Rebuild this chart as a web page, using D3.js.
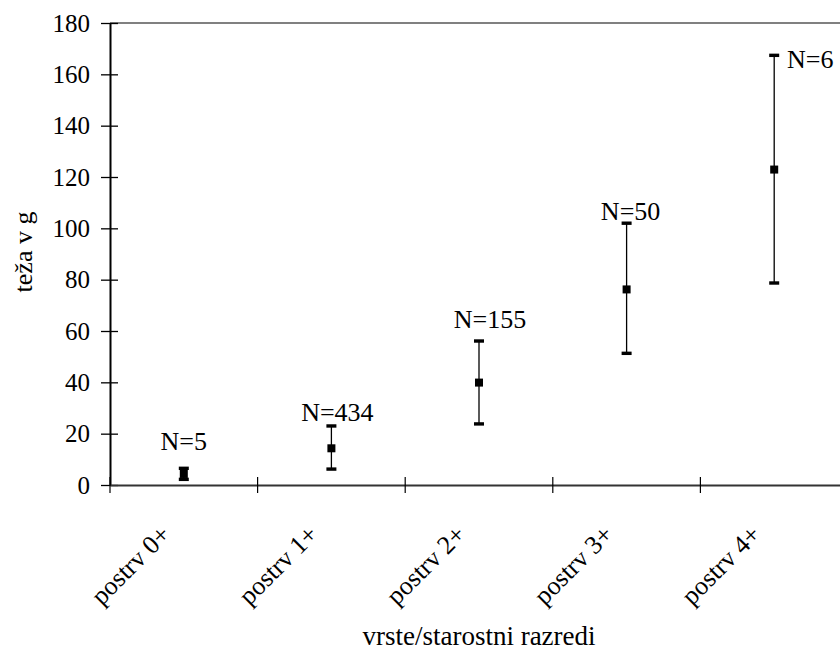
<!DOCTYPE html>
<html>
<head>
<meta charset="utf-8">
<script src="https://cdn.jsdelivr.net/npm/d3@7"></script>
<style>
    body { margin: 0; background: #fff; }
    svg text { font-family: "Liberation Serif", "Times New Roman", serif; fill: #000; }
</style>
</head>
<body>
<script>
    // values (weight in g)
    var categories = ['postrv 0+', 'postrv 1+', 'postrv 2+', 'postrv 3+', 'postrv 4+'];
    var means = [4.3, 14.3, 39.9, 76.2, 122.9];
    var lows = [2.2, 6.2, 23.8, 51.3, 78.7];
    var highs = [6.5, 23.0, 56.1, 102.0, 167.4];
    var counts = ['N=5', 'N=434', 'N=155', 'N=50', 'N=6'];
    var yTicks = [0, 20, 40, 60, 80, 100, 120, 140, 160, 180];

    // where each N label sits relative to its upper cap (px)
    var labelShift = [[0, -18], [6, -5], [11, -13], [4, -3], [36, 13]];

(function() {
    var W = 840,
        H = 654,
        mLeft = 110,
        mTop = 23,
        mBottom = 485,
        mRight = mLeft + 5 * 147.6;

    var svg = d3.select('body').append('svg')
        .attr('width', W)
        .attr('height', H);

    var x = d3.scaleBand()
        .domain(categories)
        .range([mLeft, mRight]);

    var y = d3.scaleLinear()
        .domain([0, 180])
        .range([mBottom, mTop]);

    // top frame edge
    svg.append('line')
        .attr('x1', mLeft).attr('x2', mRight)
        .attr('y1', y(180)).attr('y2', y(180))
        .attr('stroke', '#808080')
        .attr('stroke-width', 2);

    // y axis
    var yAxis = svg.append('g')
        .attr('transform', 'translate(' + mLeft + ',0)')
        .call(d3.axisLeft(y).tickValues(yTicks).tickSizeInner(9).tickSizeOuter(0).tickPadding(11));

    yAxis.select('.domain').attr('stroke', '#000').attr('stroke-width', 2);
    yAxis.selectAll('.tick line')
        .attr('x1', -9).attr('x2', 8)
        .attr('stroke', '#000').attr('stroke-width', 1.3);
    yAxis.selectAll('.tick text')
        .style('font-size', '25px')
        .style('font-family', '"Liberation Serif", serif')
        .attr('fill', '#000');

    // x axis
    var xAxis = svg.append('g')
        .attr('transform', 'translate(0,' + mBottom + ')')
        .call(d3.axisBottom(x).tickSize(0).tickFormat(''));

    xAxis.select('.domain').attr('stroke', '#333').attr('stroke-width', 2.2);

    var bounds = categories.map(function(d) { return x(d); }).concat([mRight]);
    svg.selectAll('.xtick')
        .data(bounds)
        .enter().append('line')
        .attr('class', 'xtick')
        .attr('x1', function(d) { return d; })
        .attr('x2', function(d) { return d; })
        .attr('y1', mBottom - 8)
        .attr('y2', mBottom + 8)
        .attr('stroke', '#000')
        .attr('stroke-width', 1.2);

    svg.selectAll('.xlabel')
        .data(categories)
        .enter().append('text')
        .attr('class', 'xlabel')
        .attr('transform', function(d) {
            return 'translate(' + [x(d) + x.bandwidth() / 2 - 12, mBottom + 51] + ') rotate(-45)';
        })
        .attr('text-anchor', 'end')
        .style('font-size', '26px')
        .text(function(d) { return d; });

    // axis titles
    svg.append('text')
        .attr('transform', 'translate(' + [32, 252] + ') rotate(-90)')
        .attr('text-anchor', 'middle')
        .style('font-size', '26px')
        .text('teža v g');

    svg.append('text')
        .attr('x', 479)
        .attr('y', 645)
        .attr('text-anchor', 'middle')
        .style('font-size', '27px')
        .text('vrste/starostni razredi');

    // error bars
    var cx = function(i) { return x(categories[i]) + x.bandwidth() / 2; };
    var g = svg.append('g');

    means.forEach(function(m, i) {
        var c = cx(i);

        g.append('line')
            .attr('x1', c).attr('x2', c)
            .attr('y1', y(lows[i])).attr('y2', y(highs[i]))
            .attr('stroke', '#000')
            .attr('stroke-width', 1.3);

        [lows[i], highs[i]].forEach(function(v) {
            g.append('rect')
                .attr('x', c - 5)
                .attr('y', y(v) - 1.7)
                .attr('width', 10)
                .attr('height', 3.4)
                .attr('fill', '#000');
        });

        g.append('rect')
            .attr('x', c - 4)
            .attr('y', y(m) - 4)
            .attr('width', 8)
            .attr('height', 8)
            .attr('fill', '#000');

        g.append('text')
            .attr('x', c + labelShift[i][0])
            .attr('y', y(highs[i]) + labelShift[i][1])
            .attr('text-anchor', 'middle')
            .style('font-size', '26px')
            .text(counts[i]);
    });
})();
</script>
</body>
</html>
